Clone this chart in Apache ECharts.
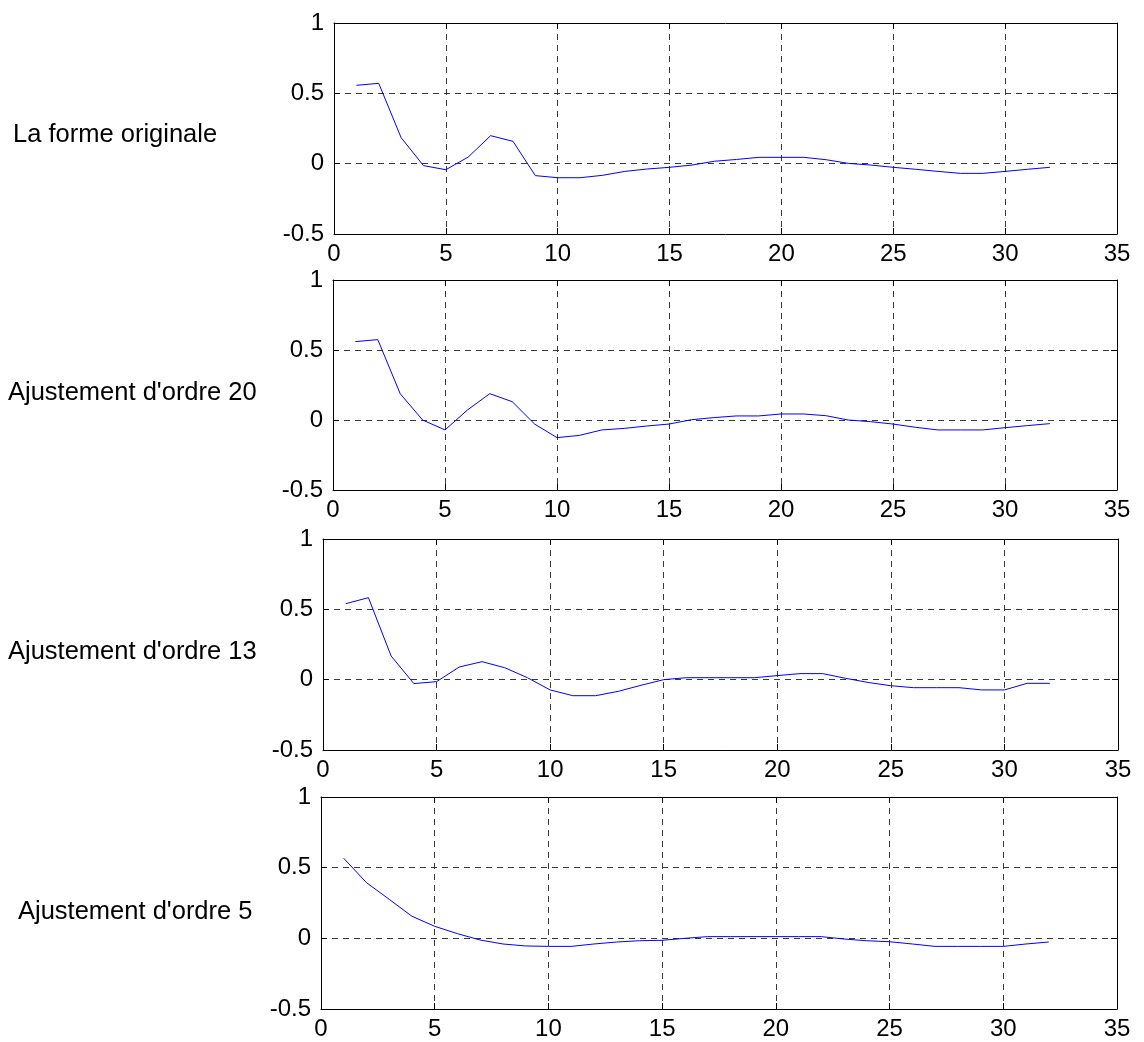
<!DOCTYPE html>
<html>
<head>
<meta charset="utf-8">
<script src="https://cdn.jsdelivr.net/npm/echarts@6/dist/echarts.min.js"></script>
<style>
  html, body { margin: 0; padding: 0; background: #fff; }
  #chart { width: 1144px; height: 1042px; }
</style>
</head>
<body>
<div id="chart"></div>
<script>
// Sample index (1..32)
const sampleIdx = [1, 2, 3, 4, 5, 6, 7, 8, 9, 10, 11, 12, 13, 14, 15, 16,
                   17, 18, 19, 20, 21, 22, 23, 24, 25, 26, 27, 28, 29, 30, 31, 32];

// Original shape and its successive fits
const formeOriginale = [0.557, 0.571, 0.185, -0.014, -0.043, 0.047, 0.199, 0.159, -0.085, -0.100, -0.100, -0.083,
                        -0.055, -0.038, -0.026, -0.010, 0.017, 0.030, 0.045, 0.045, 0.045, 0.028, 0.002, -0.010,
                        -0.026, -0.040, -0.055, -0.069, -0.069, -0.055, -0.040, -0.026];
const ordre20 = [0.560, 0.574, 0.188, 0.000, -0.071, 0.071, 0.188, 0.131, -0.029, -0.126, -0.110, -0.071,
                 -0.060, -0.043, -0.029, 0.002, 0.017, 0.029, 0.029, 0.043, 0.043, 0.031, 0.000, -0.012,
                 -0.029, -0.052, -0.071, -0.071, -0.071, -0.055, -0.040, -0.026];
const ordre13 = [0.540, 0.583, 0.168, -0.028, -0.014, 0.090, 0.128, 0.085, 0.014, -0.073, -0.114, -0.114,
                 -0.083, -0.040, 0.000, 0.014, 0.014, 0.014, 0.014, 0.029, 0.043, 0.043, 0.010, -0.020,
                 -0.043, -0.057, -0.057, -0.057, -0.073, -0.073, -0.026, -0.026];
const ordre5 = [0.566, 0.394, 0.276, 0.156, 0.085, 0.033, -0.012, -0.040, -0.054, -0.057, -0.057, -0.040,
                -0.026, -0.017, -0.014, 0.000, 0.012, 0.012, 0.012, 0.012, 0.012, 0.012, -0.005, -0.017,
                -0.024, -0.040, -0.057, -0.057, -0.057, -0.057, -0.040, -0.026];

const panelLabels = ["La forme originale", "Ajustement d'ordre 20", "Ajustement d'ordre 13", "Ajustement d'ordre 5"];
const panelSeries = [formeOriginale, ordre20, ordre13, ordre5];

// Axis ranges / ticks
const xRange = [0, 35], xStep = 5;
const yRange = [-0.5, 1], yStep = 0.5;

// Panel boxes (pixels)
const boxes = [
  { left: 334, top: 23,  width: 783, height: 211 },
  { left: 333, top: 280, width: 784, height: 210 },
  { left: 323, top: 539, width: 795, height: 211 },
  { left: 321, top: 797, width: 796, height: 212 }
];
const labelPos = [[13, 135], [8, 393], [8, 652], [18, 912]];

const FONT = "'Liberation Sans', Arial, Helvetica, sans-serif";
const axisLineStyle = { show: true, onZero: false, lineStyle: { color: '#000', width: 1 } };
const gridDash = { show: true, lineStyle: { color: '#3a3a3a', width: 1, type: [6, 5] } };
const tickIn = { show: true, inside: true, length: 6, lineStyle: { color: '#000' } };

const grids = [], xAxes = [], yAxes = [], series = [], graphics = [];

boxes.forEach((b, i) => {
  grids.push({ left: b.left, top: b.top, width: b.width, height: b.height, containLabel: false });
  const pts = sampleIdx.map((x, k) => [x, panelSeries[i][k]]);
  xAxes.push({
    type: 'value', gridIndex: i, min: xRange[0], max: xRange[1], interval: xStep, position: 'bottom',
    axisLine: axisLineStyle, axisTick: tickIn, splitLine: gridDash,
    axisLabel: { color: '#000', fontSize: 24, fontFamily: FONT, margin: 8, showMinLabel: true, showMaxLabel: true }
  });
  yAxes.push({
    type: 'value', gridIndex: i, min: yRange[0], max: yRange[1], interval: yStep, position: 'left',
    axisLine: axisLineStyle, axisTick: tickIn, splitLine: gridDash,
    axisLabel: { color: '#000', fontSize: 24, fontFamily: FONT, margin: 10, showMinLabel: true, showMaxLabel: true }
  });
  series.push({
    type: 'line', xAxisIndex: i, yAxisIndex: i, data: pts, symbol: 'none', silent: true,
    lineStyle: { color: '#0000ff', width: 1 }, animation: false
  });
  graphics.push({
    type: 'text', x: labelPos[i][0], y: labelPos[i][1],
    style: { text: panelLabels[i], font: '25.5px ' + FONT, fill: '#000', textVerticalAlign: 'middle' }
  });
});

// Box edges on top and right, with inward ticks
boxes.forEach((b, i) => {
  xAxes.push({
    type: 'value', gridIndex: i, min: xRange[0], max: xRange[1], interval: xStep, position: 'top',
    axisLine: axisLineStyle, axisTick: tickIn, axisLabel: { show: false }, splitLine: { show: false }
  });
  yAxes.push({
    type: 'value', gridIndex: i, min: yRange[0], max: yRange[1], interval: yStep, position: 'right',
    axisLine: axisLineStyle, axisTick: tickIn, axisLabel: { show: false }, splitLine: { show: false }
  });
});

const chart = echarts.init(document.getElementById('chart'), null, { renderer: 'canvas' });
chart.setOption({
  backgroundColor: '#fff',
  animation: false,
  grid: grids,
  xAxis: xAxes,
  yAxis: yAxes,
  series: series,
  graphic: graphics
});
</script>
</body>
</html>
